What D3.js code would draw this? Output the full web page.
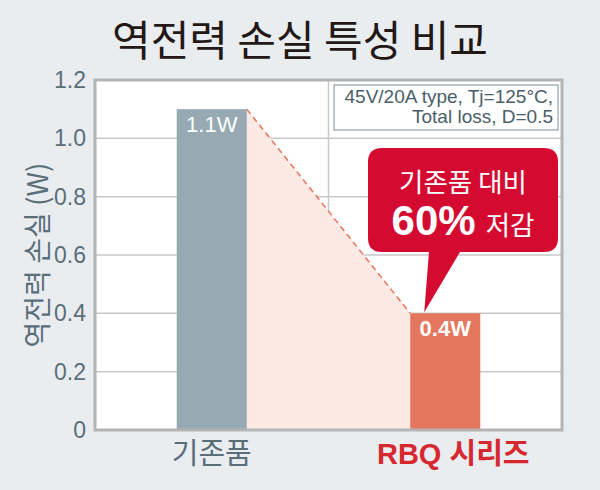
<!DOCTYPE html>
<html><head><meta charset="utf-8">
<script src="https://cdn.jsdelivr.net/npm/d3@7"></script>
<style>
html,body{margin:0;padding:0;background:#e9edf0;}
svg{display:block;font-family:"Noto Sans CJK KR","Noto Sans",Arial,sans-serif;}
</style></head>
<body>
<script>
const title = "역전력 손실 특성 비교";
const yLabel = "역전력 손실 (W)";
const categories = ["기존품", "RBQ 시리즈"];
const values = [1.1, 0.4];
const valueLabels = ["1.1W", "0.4W"];
const yTicks = [0, 0.2, 0.4, 0.6, 0.8, 1.0, 1.2];
const yTickLabels = ["0", "0.2", "0.4", "0.6", "0.8", "1.0", "1.2"];
const noteLines = ["45V/20A type, Tj=125°C,", "Total loss, D=0.5"];
const calloutLine1 = "기존품 대비";
const calloutPct = "60%";
const calloutWord = "저감";

const W = 600, H = 490;
const m = {left: 95, right: 38, top: 80, bottom: 60};
const svg = d3.select("body").append("svg").attr("width", W).attr("height", H);
svg.append("rect").attr("width", W).attr("height", H).attr("fill", "#e9edf0");

const x = d3.scaleBand().domain(categories).range([m.left, W - m.right]).paddingInner(0.7).paddingOuter(0.35);
const y = d3.scaleLinear().domain([0, 1.2]).range([H - m.bottom, m.top]);
const x0 = m.left, x1 = W - m.right, yb = y(0), yt = y(1.2);

svg.append("text").attr("x", 300).attr("y", 56).attr("text-anchor", "middle")
  .attr("font-size", 42).attr("font-weight", 400).attr("fill", "#231815").text(title);

// plot bg
svg.append("rect").attr("x", x0).attr("y", yt).attr("width", x1 - x0).attr("height", yb - yt).attr("fill", "#fff");

// grid
svg.append("g").selectAll("line").data(yTicks.slice(1, -1)).join("line")
  .attr("x1", x0).attr("x2", x1).attr("y1", d => y(d)).attr("y2", d => y(d))
  .attr("stroke", "#c8c8c8").attr("stroke-width", 1.5);
svg.append("line").attr("x1", (x0 + x1) / 2).attr("x2", (x0 + x1) / 2).attr("y1", yt).attr("y2", yb)
  .attr("stroke", "#c8c8c8").attr("stroke-width", 1.5);

// shaded trapezoid
const bw = x.bandwidth();
const pA = [x(categories[0]) + bw, y(values[0])];
const pB = [x(categories[1]), y(values[1])];
svg.append("path")
  .attr("d", `M${pA[0]},${pA[1]}L${pB[0]},${pB[1]}L${pB[0]},${yb}L${pA[0]},${yb}Z`)
  .attr("fill", "#fbe9e3");
svg.append("line").attr("x1", pA[0]).attr("y1", pA[1]).attr("x2", pB[0]).attr("y2", pB[1])
  .attr("stroke", "#e8735a").attr("stroke-width", 1.5).attr("stroke-dasharray", "6,4");

// bars
const barColors = ["#97a9b3", "#e5775e"];
svg.append("g").selectAll("rect").data(values).join("rect")
  .attr("x", (d, i) => x(categories[i])).attr("width", bw)
  .attr("y", d => y(d)).attr("height", d => yb - y(d))
  .attr("fill", (d, i) => barColors[i]);
svg.append("g").selectAll("text").data(values).join("text")
  .attr("x", (d, i) => x(categories[i]) + bw / 2).attr("y", d => y(d) + 23)
  .attr("text-anchor", "middle").attr("fill", "#fff")
  .attr("font-size", 22)
  .attr("font-family", "Arial, Liberation Sans, sans-serif")
  .attr("font-weight", (d, i) => i === 1 ? "bold" : "normal")
  .text((d, i) => valueLabels[i]);

// border
svg.append("path").attr("d", `M${x0},${yt}L${x1},${yt}L${x1},${yb}L${x0},${yb}Z`)
  .attr("fill", "none").attr("stroke", "#b4b4b4").attr("stroke-width", 3);

// y axis
const yAxis = d3.axisLeft(y).tickValues(yTicks).tickSize(0).tickPadding(9)
  .tickFormat((d, i) => yTickLabels[i]);
const gy = svg.append("g").attr("transform", `translate(${x0},0)`).call(yAxis);
gy.select(".domain").remove();
gy.selectAll("text").attr("font-size", 23).attr("fill", "#5a6e7a")
  .attr("font-family", "Arial, Liberation Sans, sans-serif");

svg.append("text").attr("transform", `translate(48,${(yt + yb) / 2}) rotate(-90)`)
  .attr("text-anchor", "middle").attr("font-size", 28).attr("fill", "#5a6e7a").text(yLabel);

// x axis
const xAxis = d3.axisBottom(x).tickSize(0).tickPadding(12);
const gx = svg.append("g").attr("transform", `translate(0,${yb})`).call(xAxis);
gx.select(".domain").remove();
gx.selectAll("text").attr("font-size", 29).attr("dy", "0.75em")
  .attr("dx", (d, i) => i === 1 ? 8 : 0)
  .attr("fill", (d, i) => i === 1 ? "#d7282f" : "#5a6e7a")
  .attr("font-weight", (d, i) => i === 1 ? "bold" : "normal")
  .attr("font-family", "Liberation Sans, Noto Sans CJK KR, sans-serif");

// note box
svg.append("rect").attr("x", 334).attr("y", 85).attr("width", 224).attr("height", 45)
  .attr("fill", "#fff").attr("stroke", "#7e8e98").attr("stroke-width", 1);
svg.append("g").selectAll("text").data(noteLines).join("text")
  .attr("x", 553).attr("y", (d, i) => 103 + i * 20).attr("text-anchor", "end")
  .attr("font-size", 19).attr("fill", "#4a5e6a")
  .attr("font-family", "Arial, Liberation Sans, sans-serif").text(d => d);

// callout
const cx0 = 368, cx1 = 558, cy0 = 148, cy1 = 252, r = 14;
const tip = [x(categories[1]) + 14, y(values[1]) - 1];
svg.append("path").attr("fill", "#d50a30").attr("d",
  `M${cx0 + r},${cy0}L${cx1 - r},${cy0}Q${cx1},${cy0} ${cx1},${cy0 + r}L${cx1},${cy1 - r}Q${cx1},${cy1} ${cx1 - r},${cy1}` +
  `L${460},${cy1}L${tip[0]},${tip[1]}L${429},${cy1}L${cx0 + r},${cy1}Q${cx0},${cy1} ${cx0},${cy1 - r}L${cx0},${cy0 + r}Q${cx0},${cy0} ${cx0 + r},${cy0}Z`);
svg.append("text").attr("x", 463).attr("y", 192).attr("text-anchor", "middle")
  .attr("font-size", 26.5).attr("fill", "#fff").text(calloutLine1);
const t2 = svg.append("text").attr("x", 463).attr("y", 235).attr("text-anchor", "middle").attr("fill", "#fff");
t2.append("tspan").attr("font-size", 42).attr("font-weight", "bold")
  .attr("font-family", "Arial, Liberation Sans, sans-serif").text(calloutPct);
t2.append("tspan").attr("font-size", 26.5).attr("dx", 10).text(calloutWord);
</script>
</body></html>
